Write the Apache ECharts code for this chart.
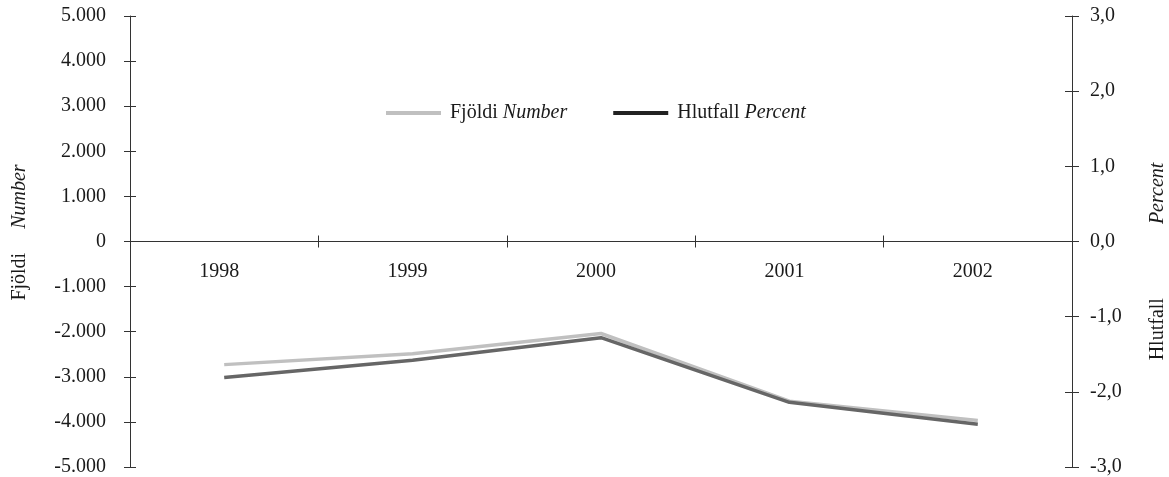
<!DOCTYPE html>
<html>
<head>
<meta charset="utf-8">
<script src="https://cdn.jsdelivr.net/npm/echarts@6/dist/echarts.min.js"></script>
<style>html,body{margin:0;padding:0;background:#fff}#c{width:1169px;height:477px}</style>
</head>
<body>
<div id="c"></div>
<script>
var categories = ['1998', '1999', '2000', '2001', '2002'];
var fjoldi = [-2730, -2490, -2040, -3540, -3970];
var hlutfall = [-1.81, -1.58, -1.28, -2.14, -2.43];
var leftTicks = {min: -5000, max: 5000, interval: 1000};
var rightTicks = {min: -3, max: 3, interval: 1};

var FONT = 'Liberation Serif';
var FS = 20;
var TXT = '#1a1a1a';
var AX = '#333';
var GRID_TOP = 16, GRID_BOTTOM = 10, H = 477;
var ZERO_SHIFT = -((H - GRID_TOP - GRID_BOTTOM) / 2);

function leftFmt(v) {
  var s = Math.abs(v).toString().replace(/\B(?=(\d{3})+(?!\d))/g, '.');
  return (v < 0 ? '-' : '') + s;
}
function rightFmt(v) {
  return v.toFixed(1).replace('.', ',');
}

var chart = echarts.init(document.getElementById('c'), null, {renderer: 'canvas'});
var lbl = {fontFamily: FONT, fontSize: FS, color: TXT};
chart.setOption({
  animation: false,
  backgroundColor: '#fff',
  grid: {left: 130, right: 97, top: GRID_TOP, bottom: GRID_BOTTOM, containLabel: false, outerBoundsMode: 'none'},
  legend: {
    left: 381, top: 98,
    itemWidth: 55, itemHeight: 4, itemGap: 46,
    icon: 'rect',
    textStyle: {fontFamily: FONT, fontSize: FS, color: TXT, padding: [0, 0, 0, 4],
      rich: {n: {fontFamily: FONT, fontSize: FS, color: TXT}, i: {fontFamily: FONT, fontSize: FS, color: TXT, fontStyle: 'italic'}}},
    formatter: function (name) {
      return name === 'Fjöldi' ? '{n|Fjöldi} {i|Number}' : '{n|Hlutfall} {i|Percent}';
    },
    data: [
      {name: 'Fjöldi', itemStyle: {color: '#c0c0c0'}},
      {name: 'Hlutfall', itemStyle: {color: '#222'}}
    ]
  },
  xAxis: [
    {
      type: 'category', data: categories, boundaryGap: true, position: 'bottom', offset: ZERO_SHIFT,
      axisLine: {onZero: false, lineStyle: {color: AX, width: 1}},
      axisTick: {show: true, length: 6, inside: false, lineStyle: {color: AX}},
      axisLabel: Object.assign({margin: 20, padding: [0, 10, 0, 0]}, lbl),
      splitLine: {show: false}
    },
    {
      type: 'category', data: categories, boundaryGap: true, position: 'top', offset: ZERO_SHIFT,
      axisLine: {onZero: false, show: false},
      axisTick: {show: true, length: 6, inside: false, lineStyle: {color: AX}},
      axisLabel: {show: false},
      splitLine: {show: false}
    }
  ],
  yAxis: [
    {
      type: 'value', position: 'left', min: leftTicks.min, max: leftTicks.max, interval: leftTicks.interval,
      axisLine: {show: true, onZero: false, lineStyle: {color: AX}},
      axisTick: {show: true, length: 6, lineStyle: {color: AX}},
      axisLabel: Object.assign({margin: 24, formatter: leftFmt}, lbl),
      splitLine: {show: false},
      name: '{a|Fjöldi}{b|Number}', nameLocation: 'middle', nameRotate: 90, nameGap: 100,
      nameTextStyle: {fontFamily: FONT, fontSize: FS, color: TXT, padding: [0, 0, 0, 18],
        rich: {a: {fontFamily: FONT, fontSize: FS, color: TXT}, b: {fontFamily: FONT, fontSize: FS, color: TXT, fontStyle: 'italic', padding: [0, 0, 0, 24]}}}
    },
    {
      type: 'value', position: 'right', min: rightTicks.min, max: rightTicks.max, interval: rightTicks.interval,
      axisLine: {show: true, onZero: false, lineStyle: {color: AX}},
      axisTick: {show: true, length: 7, lineStyle: {color: AX}},
      axisLabel: Object.assign({margin: 18, formatter: rightFmt}, lbl),
      splitLine: {show: false},
      name: '{a|Hlutfall}{b|Percent}', nameLocation: 'middle', nameRotate: 90, nameGap: 76,
      nameTextStyle: {fontFamily: FONT, fontSize: FS, color: TXT, padding: [0, 40, 0, 0],
        rich: {a: {fontFamily: FONT, fontSize: FS, color: TXT}, b: {fontFamily: FONT, fontSize: FS, color: TXT, fontStyle: 'italic', padding: [0, 0, 0, 74]}}}
    },
    {
      type: 'value', position: 'left', min: leftTicks.min, max: leftTicks.max, interval: leftTicks.interval,
      axisLine: {show: false, onZero: false},
      axisTick: {show: true, inside: true, length: 6, lineStyle: {color: AX}},
      axisLabel: {show: false}, splitLine: {show: false}
    },
    {
      type: 'value', position: 'right', min: rightTicks.min, max: rightTicks.max, interval: rightTicks.interval,
      axisLine: {show: false, onZero: false},
      axisTick: {show: true, inside: true, length: 7, lineStyle: {color: AX}},
      axisLabel: {show: false}, splitLine: {show: false}
    }
  ],
  series: [
    {
      name: 'Fjöldi', type: 'line', xAxisIndex: 0, yAxisIndex: 0, data: fjoldi,
      showSymbol: false, symbol: 'none',
      lineStyle: {color: '#c0c0c0', width: 3.5}, itemStyle: {color: '#c0c0c0'}
    },
    {
      name: 'Hlutfall', type: 'line', xAxisIndex: 0, yAxisIndex: 1, data: hlutfall,
      showSymbol: false, symbol: 'none',
      lineStyle: {color: '#666', width: 3.5}, itemStyle: {color: '#666'}
    }
  ]
});
</script>
</body>
</html>
